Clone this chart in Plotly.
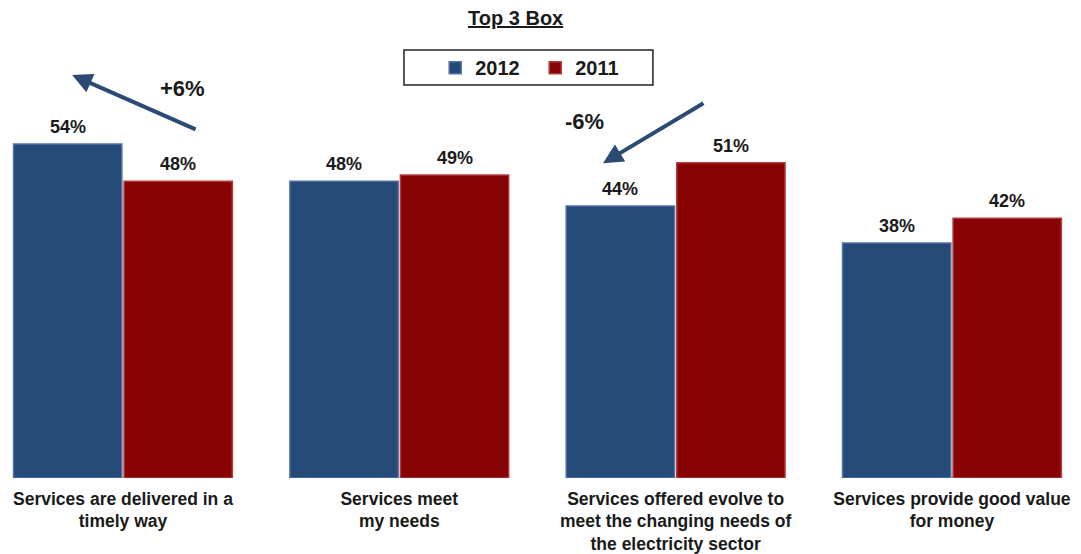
import plotly.graph_objects as go

categories = [
    "Services are delivered in a<br>timely way",
    "Services meet<br>my needs",
    "Services offered evolve to<br>meet the changing needs of<br>the electricity sector",
    "Services provide good value<br>for money",
]
values_2012 = [54, 48, 44, 38]
values_2011 = [48, 49, 51, 42]

BLUE = "#264a78"
RED = "#880404"
ARROW = "#2b4a74"
TEXT = "#1a1a1a"
FONT = "Liberation Sans, Arial"

x_pos = list(range(len(categories)))

fig = go.Figure()
fig.add_trace(go.Bar(
    x=x_pos, y=values_2012, name="<b>2012</b>",
    marker=dict(color=BLUE, line=dict(color="#4f73a6", width=1.5)),
))
fig.add_trace(go.Bar(
    x=x_pos, y=values_2011, name="<b>2011</b>",
    marker=dict(color=RED, line=dict(color="#b23c3c", width=1.5)),
))

# value labels above each bar
annotations = []
for i, (a, b) in enumerate(zip(values_2012, values_2011)):
    for dx, v in ((-0.2, a), (0.2, b)):
        annotations.append(dict(
            x=i + dx, y=v, xref="x", yref="y", text=f"<b>{v}%</b>",
            showarrow=False, yanchor="bottom", yshift=5,
            font=dict(family=FONT, size=18, color=TEXT),
        ))

# change callouts
annotations += [
    dict(x=-0.184, y=1.086, xref="x", yref="paper", ax=125, ay=55,
         showarrow=True, arrowhead=2, arrowsize=1, arrowwidth=4, arrowcolor=ARROW, text=""),
    dict(x=0.217, y=1.051, xref="x", yref="paper", xanchor="center", yanchor="middle",
         text="<b>+6%</b>", showarrow=False,
         font=dict(family=FONT, size=22, color=TEXT)),
    dict(x=1.737, y=50.9, xref="x", yref="y", ax=102, ay=-61,
         showarrow=True, arrowhead=2, arrowsize=1, arrowwidth=4, arrowcolor=ARROW, text=""),
    dict(x=1.672, y=57.6, xref="x", yref="y", xanchor="center", yanchor="middle",
         text="<b>-6%</b>", showarrow=False,
         font=dict(family=FONT, size=22, color=TEXT)),
]

fig.update_layout(
    width=1081, height=554,
    margin=dict(l=0, r=0, t=107, b=76),
    paper_bgcolor="white", plot_bgcolor="white",
    barmode="group", bargap=0.2, bargroupgap=0.02,
    title=dict(text="<b><u>Top 3 Box</u></b>", x=0.477, xanchor="center", y=0.9675, yanchor="middle",
               font=dict(family=FONT, size=20, color=TEXT)),
    legend=dict(orientation="h", x=0.4026, xanchor="left", y=1.106, yanchor="middle",
                borderwidth=0, bgcolor="rgba(0,0,0,0)",
                entrywidth=55, itemwidth=30,
                font=dict(family=FONT, size=20, color=TEXT)),
    shapes=[dict(type="rect", xref="paper", yref="paper",
                 x0=0.3737, x1=0.604, y0=1.0593, y1=1.1536,
                 line=dict(color="#222222", width=1.5), fillcolor="rgba(0,0,0,0)", layer="below")],
    xaxis=dict(range=[-0.445, 3.467], tickvals=x_pos, ticktext=[f"<b>{c}</b>" for c in categories],
               showgrid=False, zeroline=False, showline=False, ticks="", ticklabelstandoff=8,
               tickfont=dict(family=FONT, size=17.5, color=TEXT)),
    yaxis=dict(range=[0, 60], visible=False),
    annotations=annotations,
    showlegend=True,
)

fig.write_html("out.html")
